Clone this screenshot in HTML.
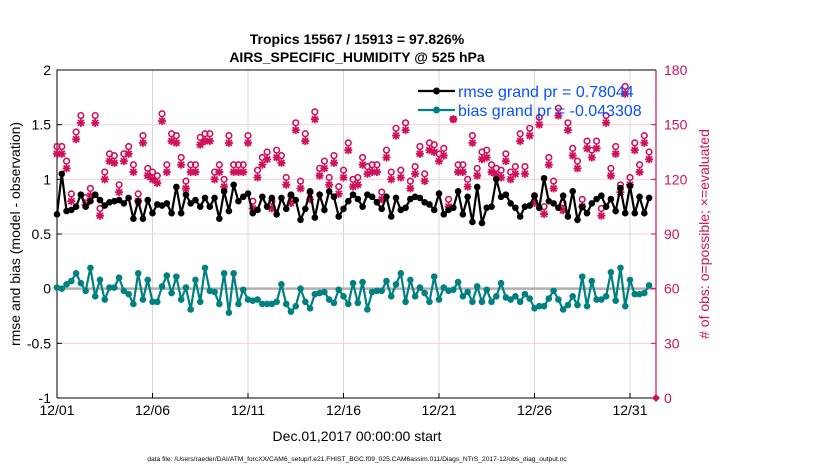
<!DOCTYPE html>
<html><head><meta charset="utf-8">
<style>
body{margin:0;background:#fff;}
svg{display:block;font-family:"Liberation Sans",sans-serif;}
</style></head>
<body>
<svg id="chart" width="830" height="470" viewBox="0 0 830 470" xmlns="http://www.w3.org/2000/svg">
<text x="357" y="44" text-anchor="middle" font-size="14" font-weight="bold">Tropics 15567 / 15913 = 97.826%</text>
<text x="357" y="62" text-anchor="middle" font-size="14" font-weight="bold">AIRS_SPECIFIC_HUMIDITY @ 525 hPa</text>
<g id="grid"></g>
<g id="axes"></g>
<g id="marks"></g>
<text x="0" y="0" transform="translate(20,234) rotate(-90)" text-anchor="middle" font-size="14">rmse and bias (model - observation)</text>
<text x="0" y="0" transform="translate(709,234) rotate(-90)" text-anchor="middle" font-size="14" fill="#d1105a"># of obs: o=possible; ×=evaluated</text>
<text x="357" y="441" text-anchor="middle" font-size="14">Dec.01,2017 00:00:00 start</text>
<text x="357" y="461" text-anchor="middle" font-size="6.7">data file: /Users/raeder/DAI/ATM_forcXX/CAM6_setup/f.e21.FHIST_BGC.f09_025.CAM6assim.011/Diags_NTrS_2017-12/obs_diag_output.nc</text>
<g id="legend"></g>
</svg>
<script>
const xTickLabels = ["12/01","12/06","12/11","12/16","12/21","12/26","12/31"];
const xTickDays = [0,5,10,15,20,25,30];
const leftTicks = [-1,-0.5,0,0.5,1,1.5,2];
const rightTicks = [0,30,60,90,120,150,180];
const stepDays = 0.25;
const rmse = [0.68,1.05,0.71,0.72,0.75,0.86,0.75,0.8,0.86,0.81,0.76,0.79,0.8,0.81,0.78,0.83,0.64,0.8,0.64,0.81,0.69,0.77,0.76,0.78,0.69,0.93,0.69,0.86,0.78,0.81,0.75,0.83,
0.75,0.83,0.64,0.89,0.71,0.95,0.8,0.84,0.87,0.69,0.72,0.84,0.75,0.83,0.68,0.83,0.73,0.86,0.81,0.63,0.73,0.89,0.65,0.86,0.72,0.89,0.84,0.66,0.73,0.8,0.86,
0.82,0.75,0.86,0.84,0.79,0.73,0.84,0.66,0.83,0.72,0.74,0.82,0.84,0.83,0.79,0.77,0.72,0.87,0.68,0.72,0.74,0.89,0.68,0.84,0.61,0.93,0.6,0.74,0.75,1.0,0.84,0.86,
0.78,0.74,0.66,0.75,0.76,0.85,0.74,1.01,0.8,0.78,0.74,0.85,0.66,0.89,0.63,0.75,0.69,0.78,0.82,0.85,0.75,0.82,0.71,0.92,0.69,0.94,0.69,0.84,0.69,0.83];
const bias = [0.01,0,0.04,0.07,0.14,0.05,-0.02,0.19,-0.07,0.08,-0.1,0.01,0.01,0.1,-0.02,-0.05,-0.14,0.14,-0.1,0.08,-0.12,-0.12,0.02,0.12,-0.04,0.11,-0.1,0.01,-0.19,0.08,-0.12,0.19,
-0.02,-0.03,-0.14,0.14,-0.22,0.14,-0.14,-0.01,-0.1,-0.11,-0.1,-0.14,-0.14,-0.14,-0.12,0.04,-0.14,-0.21,-0.16,0,-0.12,-0.18,-0.05,-0.04,-0.03,-0.1,-0.13,-0.01,-0.07,-0.14,0.05,
-0.13,0.06,-0.19,-0.03,-0.02,-0.02,0.07,-0.07,0.04,0.14,-0.12,0.08,-0.07,0.01,-0.04,-0.12,0.11,-0.1,0.01,-0.02,-0.01,0.06,-0.07,-0.03,-0.12,0.02,-0.12,-0.01,-0.12,-0.07,0.05,-0.08,
-0.1,-0.07,-0.12,-0.05,-0.09,-0.18,-0.16,-0.16,-0.09,-0.02,-0.1,-0.19,-0.15,-0.07,-0.15,0.11,-0.16,0.07,-0.1,-0.1,-0.07,0.15,-0.11,0.19,-0.16,0.08,-0.05,-0.05,-0.04,0.03];
const nEvaluated = [134,134,126,108,142,151,106,111,151,100,120,130,129,113,130,134,124,108,140,122,120,118,152,124,141,140,128,115,124,124,139,141,
141,120,124,116,140,124,124,124,140,104,121,128,131,104,132,129,117,107,147,115,141,109,153,122,126,117,129,112,121,136,116,
117,128,123,124,124,109,132,120,144,121,147,115,123,134,119,136,135,130,133,105,153,124,124,116,140,122,131,132,124,122,121,130,
120,123,141,123,144,107,150,101,128,115,155,103,147,133,126,105,137,132,137,100,151,122,134,113,167,117,136,124,140,131];
const nPossible = [138,138,130,112,146,155,110,115,155,104,124,134,133,117,134,138,128,112,144,126,124,122,156,128,145,144,132,119,128,128,143,145,
145,124,128,120,144,128,128,128,144,108,125,132,135,108,136,133,121,111,151,119,145,113,157,126,130,121,133,116,125,140,120,
121,132,127,128,128,113,136,124,148,125,151,119,127,138,123,140,139,134,137,109,153,128,128,120,144,126,135,136,128,126,125,134,
124,127,145,127,148,111,154,105,132,119,159,107,151,137,130,109,141,136,141,104,155,126,138,117,171,121,140,128,144,135];

const X0=57, X1=656, Y0=70, Y1=398;
const dayPx=19.1;
function xs(d){return X0+d*dayPx;}
function yl(v){return Y1-(v+1)/3*(Y1-Y0);}
function yr(v){return Y1-v/180*(Y1-Y0);}
const NS="http://www.w3.org/2000/svg";
function mk(tag,attrs,parent){const e=document.createElementNS(NS,tag);for(const k in attrs)e.setAttribute(k,attrs[k]);parent.appendChild(e);return e;}
const grid=document.getElementById('grid'),axes=document.getElementById('axes'),marks=document.getElementById('marks'),legend=document.getElementById('legend');
const PINK="#d1105a", TEAL="#008080";

mk('rect',{x:X0,y:Y0,width:X1-X0,height:Y1-Y0,fill:'#fff'},grid);
xTickDays.forEach((d,i)=>{
  const l=mk('line',{x1:xs(d),x2:xs(d),y1:Y0,y2:Y1,stroke:'#d8d8d8','stroke-width':1},grid);
  
  
  mk('line',{x1:xs(d),x2:xs(d),y1:Y1,y2:Y1-5,stroke:'#000'},axes);
  const tx=mk('text',{x:xs(d),y:Y1+17,'text-anchor':'middle','font-size':14},axes);
  tx.textContent=xTickLabels[i];
  
  
});
rightTicks.forEach(v=>{
  if(v>0&&v<180){const g=mk('line',{x1:X0,x2:X1,y1:yr(v),y2:yr(v),stroke:'#f5cfdc','stroke-width':1},grid);
  
  }
  mk('line',{x1:X1,x2:X1-5,y1:yr(v),y2:yr(v),stroke:PINK},axes);
  const tx=mk('text',{x:X1+8,y:yr(v)+5,'font-size':14,fill:PINK},axes);
  tx.textContent=v;
  
  
});
leftTicks.forEach(v=>{
  mk('line',{x1:X0,x2:X0+5,y1:yl(v),y2:yl(v),stroke:'#000'},axes);
  const tx=mk('text',{x:X0-6,y:yl(v)+5,'text-anchor':'end','font-size':14},axes);
  tx.textContent=String(v);
  
  
});
mk('line',{x1:X0,x2:X1,y1:yl(0),y2:yl(0),stroke:'#b0b0b0','stroke-width':2.5},grid);
mk('path',{d:`M${X0},${Y1}V${Y0}H${X1}`,fill:'none',stroke:'#000','stroke-width':1},axes);
mk('line',{x1:X0,x2:X1,y1:Y1,y2:Y1,stroke:'#000'},axes);
mk('line',{x1:X1,x2:X1,y1:Y0,y2:Y1,stroke:PINK,'stroke-width':1.2},axes);

nPossible.forEach((v,i)=>{
  const c=mk('circle',{cx:xs(i*stepDays),cy:yr(v),r:2.8,fill:'none',stroke:PINK,'stroke-width':1.6},marks);
  
  
});
nEvaluated.forEach((v,i)=>{
  const x=xs(i*stepDays),y=yr(v),s=4;
  const p=mk('path',{d:`M${x-s},${y}H${x+s}M${x},${y-s}V${y+s}M${x-3},${y-3}L${x+3},${y+3}M${x-3},${y+3}L${x+3},${y-3}`,stroke:PINK,'stroke-width':1.8},marks);
  
  
});
const zm=mk('path',{d:`M${X1-4},${Y1}L${X1},${Y1-4}L${X1+4},${Y1}L${X1},${Y1+4}Z`,fill:PINK},marks);



function series(vals,color,name){
  const pts=vals.map((v,i)=>xs(i*stepDays)+','+yl(v)).join(' ');
  const pl=mk('polyline',{points:pts,fill:'none',stroke:color,'stroke-width':2.2},marks);
  
  
  vals.forEach((v,i)=>{
    const c=mk('circle',{cx:xs(i*stepDays),cy:yl(v),r:3.3,fill:color},marks);
    
    
  });
}
series(rmse,'#000','rmse');
series(bias,TEAL,'bias');

[[ '#000','rmse grand pr = 0.78044',91,'legend-entry-rmse'],[TEAL,'bias grand pr = -0.043308',110,'legend-entry-bias']].forEach(e=>{
  const g=mk('g',{},legend);
  
  
  mk('line',{x1:418,x2:455,y1:e[2],y2:e[2],stroke:e[0],'stroke-width':2.2},g);
  mk('circle',{cx:436.5,cy:e[2],r:3.5,fill:e[0]},g);
  const t=mk('text',{x:458,y:e[2]+6,'font-size':16,fill:'#0a50ff'},g);
  t.textContent=e[1];
});
</script>
</body></html>
